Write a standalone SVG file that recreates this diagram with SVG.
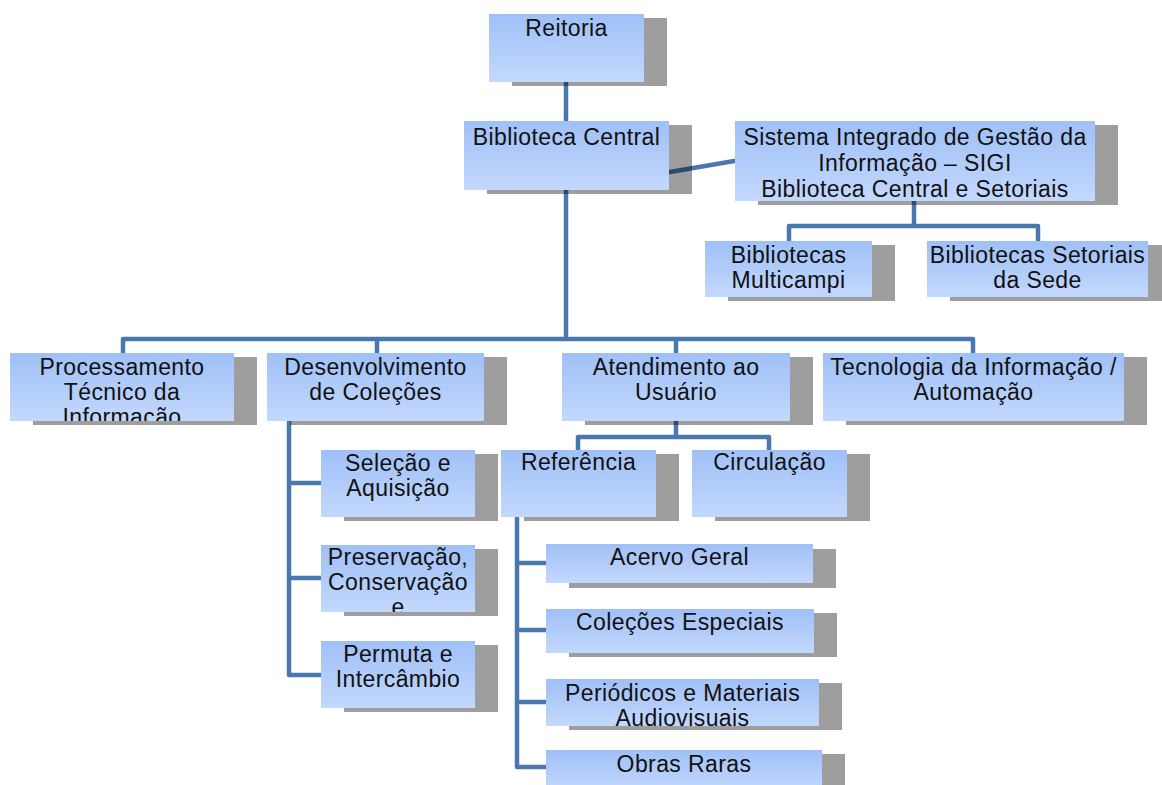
<svg xmlns="http://www.w3.org/2000/svg" width="1162" height="785" viewBox="0 0 1162 785">
<style>
.box{fill:url(#g)}
.sh{fill:#000;fill-opacity:0.38}
.t{font-family:"Liberation Sans",Arial,sans-serif;font-size:23px;letter-spacing:0.4px;fill:#111;text-anchor:middle}
.c{fill:none;stroke:#4A78AE;stroke-width:4.5;stroke-linejoin:round;stroke-linecap:butt}
</style>
<defs>
<linearGradient id="g" x1="0" y1="0" x2="0" y2="1">
<stop offset="0" stop-color="#9FC0F7"/>
<stop offset="1" stop-color="#C3D8FD"/>
</linearGradient>
<clipPath id="k1"><rect x="489" y="14" width="155" height="68"/></clipPath>
<clipPath id="k2"><rect x="464" y="121" width="205" height="69"/></clipPath>
<clipPath id="k3"><rect x="735" y="121" width="360" height="80"/></clipPath>
<clipPath id="k4"><rect x="705" y="241" width="167" height="56"/></clipPath>
<clipPath id="k5"><rect x="927" y="241" width="221" height="56"/></clipPath>
<clipPath id="k6"><rect x="10" y="353" width="224" height="68"/></clipPath>
<clipPath id="k7"><rect x="267" y="353" width="217" height="68"/></clipPath>
<clipPath id="k8"><rect x="562" y="353" width="228" height="68"/></clipPath>
<clipPath id="k9"><rect x="823" y="353" width="301" height="68"/></clipPath>
<clipPath id="k10"><rect x="321" y="450" width="154" height="67"/></clipPath>
<clipPath id="k11"><rect x="501" y="450" width="155" height="67"/></clipPath>
<clipPath id="k12"><rect x="692" y="450" width="155" height="67"/></clipPath>
<clipPath id="k13"><rect x="321" y="545" width="154" height="67"/></clipPath>
<clipPath id="k14"><rect x="321" y="641" width="154" height="67"/></clipPath>
<clipPath id="k15"><rect x="546" y="544" width="267" height="39"/></clipPath>
<clipPath id="k16"><rect x="546" y="609" width="268" height="44"/></clipPath>
<clipPath id="k17"><rect x="546" y="679" width="273" height="47"/></clipPath>
<clipPath id="k18"><rect x="546" y="750" width="276" height="40"/></clipPath>
</defs>
<rect width="1162" height="785" fill="#fff"/>
<g id="connectors">
<path class="c" d="M566,60 V140"/>
<path class="c" d="M566,170 V339"/>
<path class="c" d="M123,360 V339 H973 V360"/>
<path class="c" d="M377,339 V360"/>
<path class="c" d="M676,339 V360"/>
<path class="c" d="M600,184 L740,160" stroke-width="5"/>
<path class="c" d="M914,190 V226"/>
<path class="c" d="M789,250 V226 H1038 V250"/>
<path class="c" d="M676,410 V437"/>
<path class="c" d="M578,460 V437 H769 V460"/>
<path class="c" d="M289,415 V675 H330"/>
<path class="c" d="M289,483 H330"/>
<path class="c" d="M289,578 H330"/>
<path class="c" d="M517,510 V767 H555"/>
<path class="c" d="M517,563 H555"/>
<path class="c" d="M517,630 H555"/>
<path class="c" d="M517,702 H555"/>
</g>
<g id="reitoria">
<rect class="sh" x="512" y="18" width="155" height="68"/>
<rect class="box" x="489" y="14" width="155" height="68"/>
<g clip-path="url(#k1)"><text class="t" x="566.5" y="36">Reitoria</text></g>
</g>
<g id="biblioteca-central">
<rect class="sh" x="487" y="125" width="205" height="69"/>
<rect class="box" x="464" y="121" width="205" height="69"/>
<g clip-path="url(#k2)"><text class="t" x="566.5" y="145">Biblioteca Central</text></g>
</g>
<g id="sigi">
<rect class="sh" x="758" y="125" width="360" height="80"/>
<rect class="box" x="735" y="121" width="360" height="80"/>
<g clip-path="url(#k3)"><text class="t" x="915" y="145">Sistema Integrado de Gestão da</text><text class="t" x="915" y="171">Informação – SIGI</text><text class="t" x="915" y="197">Biblioteca Central e Setoriais</text></g>
</g>
<g id="multicampi">
<rect class="sh" x="728" y="245" width="167" height="56"/>
<rect class="box" x="705" y="241" width="167" height="56"/>
<g clip-path="url(#k4)"><text class="t" x="788.5" y="263">Bibliotecas</text><text class="t" x="788.5" y="288">Multicampi</text></g>
</g>
<g id="setoriais">
<rect class="sh" x="950" y="245" width="221" height="56"/>
<rect class="box" x="927" y="241" width="221" height="56"/>
<g clip-path="url(#k5)"><text class="t" x="1037.5" y="263">Bibliotecas Setoriais</text><text class="t" x="1037.5" y="288">da Sede</text></g>
</g>
<g id="processamento">
<rect class="sh" x="33" y="357" width="224" height="68"/>
<rect class="box" x="10" y="353" width="224" height="68"/>
<g clip-path="url(#k6)"><text class="t" x="122" y="375">Processamento</text><text class="t" x="122" y="400">Técnico da</text><text class="t" x="122" y="425">Informação</text></g>
</g>
<g id="desenvolvimento">
<rect class="sh" x="290" y="357" width="217" height="68"/>
<rect class="box" x="267" y="353" width="217" height="68"/>
<g clip-path="url(#k7)"><text class="t" x="375.5" y="375">Desenvolvimento</text><text class="t" x="375.5" y="400">de Coleções</text></g>
</g>
<g id="atendimento">
<rect class="sh" x="585" y="357" width="228" height="68"/>
<rect class="box" x="562" y="353" width="228" height="68"/>
<g clip-path="url(#k8)"><text class="t" x="676" y="375">Atendimento ao</text><text class="t" x="676" y="400">Usuário</text></g>
</g>
<g id="tecnologia">
<rect class="sh" x="846" y="357" width="301" height="68"/>
<rect class="box" x="823" y="353" width="301" height="68"/>
<g clip-path="url(#k9)"><text class="t" x="973.5" y="375">Tecnologia da Informação /</text><text class="t" x="973.5" y="400">Automação</text></g>
</g>
<g id="selecao">
<rect class="sh" x="344" y="454" width="154" height="67"/>
<rect class="box" x="321" y="450" width="154" height="67"/>
<g clip-path="url(#k10)"><text class="t" x="398" y="471">Seleção e</text><text class="t" x="398" y="496">Aquisição</text></g>
</g>
<g id="referencia">
<rect class="sh" x="524" y="454" width="155" height="67"/>
<rect class="box" x="501" y="450" width="155" height="67"/>
<g clip-path="url(#k11)"><text class="t" x="578.5" y="470">Referência</text></g>
</g>
<g id="circulacao">
<rect class="sh" x="715" y="454" width="155" height="67"/>
<rect class="box" x="692" y="450" width="155" height="67"/>
<g clip-path="url(#k12)"><text class="t" x="769.5" y="470">Circulação</text></g>
</g>
<g id="preservacao">
<rect class="sh" x="344" y="549" width="154" height="67"/>
<rect class="box" x="321" y="545" width="154" height="67"/>
<g clip-path="url(#k13)"><text class="t" x="398" y="565">Preservação,</text><text class="t" x="398" y="590">Conservação</text><text class="t" x="398" y="615">e</text></g>
</g>
<g id="permuta">
<rect class="sh" x="344" y="645" width="154" height="67"/>
<rect class="box" x="321" y="641" width="154" height="67"/>
<g clip-path="url(#k14)"><text class="t" x="398" y="662">Permuta e</text><text class="t" x="398" y="687">Intercâmbio</text></g>
</g>
<g id="acervo-geral">
<rect class="sh" x="569" y="549" width="267" height="39"/>
<rect class="box" x="546" y="544" width="267" height="39"/>
<g clip-path="url(#k15)"><text class="t" x="679.5" y="565">Acervo Geral</text></g>
</g>
<g id="colecoes-especiais">
<rect class="sh" x="569" y="613" width="268" height="44"/>
<rect class="box" x="546" y="609" width="268" height="44"/>
<g clip-path="url(#k16)"><text class="t" x="680" y="630">Coleções Especiais</text></g>
</g>
<g id="periodicos">
<rect class="sh" x="569" y="683" width="273" height="47"/>
<rect class="box" x="546" y="679" width="273" height="47"/>
<g clip-path="url(#k17)"><text class="t" x="682.5" y="701">Periódicos e Materiais</text><text class="t" x="682.5" y="726">Audiovisuais</text></g>
</g>
<g id="obras-raras">
<rect class="sh" x="569" y="754" width="276" height="40"/>
<rect class="box" x="546" y="750" width="276" height="40"/>
<g clip-path="url(#k18)"><text class="t" x="684" y="772">Obras Raras</text></g>
</g>
</svg>
